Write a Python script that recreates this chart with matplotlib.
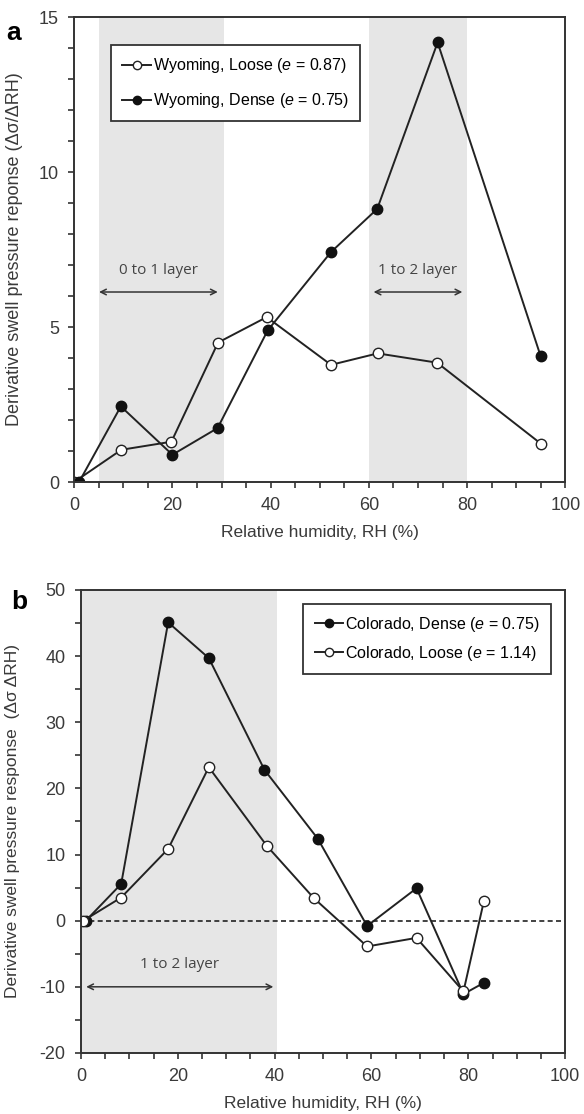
import numpy as np
import matplotlib.pyplot as plt
from matplotlib.ticker import MultipleLocator

plt.rcParams['font.family'] = ['Liberation Sans', 'DejaVu Sans']
plt.rcParams['axes.unicode_minus'] = False
plt.rcParams['mathtext.fontset'] = 'custom'
plt.rcParams['mathtext.it'] = 'Liberation Sans:italic'
plt.rcParams['mathtext.rm'] = 'Liberation Sans'

# panel a: Wyoming
wy_loose_rh = [0, 9.6, 19.8, 29.3, 39.2, 52.3, 61.8, 73.9, 95.0]
wy_loose_d = [0, 1.04, 1.3, 4.5, 5.32, 3.78, 4.15, 3.85, 1.24]
wy_dense_rh = [1.0, 9.5, 20.0, 29.2, 39.4, 52.3, 61.7, 74.0, 95.0]
wy_dense_d = [0, 2.44, 0.88, 1.74, 4.89, 7.42, 8.81, 14.18, 4.05]
wy_bands = [(5, 30.5), (60, 80)]
wy_arrows = [(4.5, 29.8, 6.13, '0 to 1 layer'), (60.4, 79.6, 6.13, '1 to 2 layer')]

# panel b: Colorado
co_dense_rh = [1.0, 8.3, 18.0, 26.4, 37.9, 48.9, 59.1, 69.3, 79.0, 83.2]
co_dense_d = [0, 5.55, 45.1, 39.7, 22.8, 12.4, -0.8, 4.9, -11.1, -9.4]
co_loose_rh = [0.5, 8.3, 18.0, 26.4, 38.4, 48.1, 59.1, 69.3, 79.0, 83.2]
co_loose_d = [0, 3.5, 10.85, 23.2, 11.3, 3.4, -3.9, -2.6, -10.7, 2.9]
co_bands = [(0, 40.5)]
co_arrows = [(0.5, 40.3, -10, '1 to 2 layer')]

fig = plt.figure(figsize=(5.84, 11.14), dpi=100)
ax1 = fig.add_axes([0.127, 0.5673, 0.841, 0.4174])
ax2 = fig.add_axes([0.1387, 0.0548, 0.829, 0.4156])

kw = dict(color='#222222', lw=1.4, ms=7.5)


def style(ax):
    for s in ax.spines.values():
        s.set_linewidth(1.4)
        s.set_color('#333333')
    ax.tick_params(which='both', direction='out', labelsize=13, colors='#333333',
                   labelcolor='#3a3a3a', width=1.2, pad=7)
    ax.tick_params(which='major', length=4)
    ax.tick_params(which='minor', length=4)
    ax.xaxis.set_major_locator(MultipleLocator(20))
    ax.xaxis.set_minor_locator(MultipleLocator(5))
    ax.set_xlim(0, 100)
    ax.set_xlabel('Relative humidity, RH (%)', fontsize=12.5, color='#3a3a3a', labelpad=8)


def arrows(ax, lst, dy):
    for x0, x1, y, txt in lst:
        ax.annotate('', xy=(x0, y), xytext=(x1, y),
                    arrowprops=dict(arrowstyle='<->', color='#333333', lw=1.1))
        ax.text((x0 + x1) / 2, y + dy, txt, ha='center', va='bottom', fontsize=11,
                color='#444444', family=['Open Sans', 'DejaVu Sans'])


def legend(ax, anchor, loc, spacing):
    leg = ax.legend(loc=loc, bbox_to_anchor=anchor, fontsize=11.5, handlelength=1.8,
                    handletextpad=0.1, labelspacing=spacing, fancybox=False, edgecolor='#333333',
                    borderpad=0.7, borderaxespad=0, framealpha=1, markerscale=0.8)
    leg.get_frame().set_linewidth(1.3)


# panel a
for a, b in wy_bands:
    ax1.axvspan(a, b, color='#e6e6e6', lw=0, zorder=0)
ax1.plot(wy_loose_rh, wy_loose_d, marker='o', mfc='white', mec='#222222', label='Wyoming, Loose ($e$ = 0.87)', **kw)
ax1.plot(wy_dense_rh, wy_dense_d, marker='o', mfc='#111111', mec='#111111', label='Wyoming, Dense ($e$ = 0.75)', **kw)
arrows(ax1, wy_arrows, 0.45)
ax1.set_ylim(0, 15)
ax1.yaxis.set_major_locator(MultipleLocator(5))
ax1.yaxis.set_minor_locator(MultipleLocator(1))
style(ax1)
ax1.set_ylabel('Derivative swell pressure reponse (\u0394\u03c3/\u0394RH)', fontsize=13, color='#3a3a3a')
ax1.yaxis.set_label_coords(-0.105, 0.5)
legend(ax1, (0.075, 0.94), 'upper left', 1.0)
fig.text(14 / 584, 1 - 33 / 1114, 'a', fontsize=19, fontweight='bold', ha='center', va='center')

# panel b
for a, b in co_bands:
    ax2.axvspan(a, b, color='#e6e6e6', lw=0, zorder=0)
ax2.axhline(0, color='#222222', lw=1.2, ls=(0, (3, 2)), zorder=1)
ax2.plot(co_dense_rh, co_dense_d, marker='o', mfc='#111111', mec='#111111', label='Colorado, Dense ($e$ = 0.75)', **kw)
ax2.plot(co_loose_rh, co_loose_d, marker='o', mfc='white', mec='#222222', label='Colorado, Loose ($e$ = 1.14)', **kw)
arrows(ax2, co_arrows, 2.2)
ax2.set_ylim(-20, 50)
ax2.yaxis.set_major_locator(MultipleLocator(10))
ax2.yaxis.set_minor_locator(MultipleLocator(5))
style(ax2)
ax2.set_ylabel('Derivative swell pressure response  (\u0394\u03c3 \u0394RH)', fontsize=12.5, color='#3a3a3a')
ax2.yaxis.set_label_coords(-0.125, 0.5)
legend(ax2, (0.97, 0.97), 'upper right', 0.6)
fig.text(19 / 584, 1 - 602 / 1114, 'b', fontsize=19, fontweight='bold', ha='center', va='center')

fig.savefig('out.png', dpi=100)
